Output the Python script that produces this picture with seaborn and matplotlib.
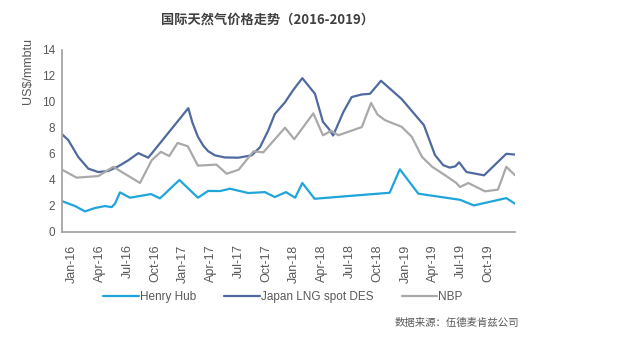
import numpy as np
import pandas as pd
import matplotlib
matplotlib.use("Agg")
import matplotlib.pyplot as plt
import seaborn as sns

# x positions are months since Jan-2016
hh_x = [-1.08, 0.33, 1.4, 2.48, 3.56, 4.28, 4.64, 5.18, 6.26, 8.53, 9.5, 11.6, 13.6, 14.7,
        15.98, 17.06, 19.04, 20.84, 21.9, 23.1, 24.1, 24.87, 26.2, 31.64, 34.3, 35.4, 37.4,
        41.9, 43.4, 46.9, 47.84]
hh_y = [2.37, 1.99, 1.58, 1.84, 1.99, 1.91, 2.17, 3.04, 2.63, 2.91, 2.58, 3.99, 2.63, 3.15,
        3.14, 3.32, 2.99, 3.06, 2.68, 3.06, 2.63, 3.76, 2.55, 2.86, 3.01, 4.81, 2.94,
        2.47, 2.04, 2.6, 2.17]

jp_x = [-1.08, -0.4, 0.68, 1.76, 2.84, 3.92, 5.0, 6.08, 7.16, 8.24, 12.56, 13.0, 13.6, 14.2,
        14.7, 15.44, 16.5, 17.96, 19.4, 20.3, 21.2, 21.9, 23.0, 23.9, 24.87, 26.24, 27.1,
        27.75, 28.2, 29.3, 30.2, 31.28, 32.18, 33.37, 35.6, 38.0, 39.2, 40.1, 40.8, 41.4,
        41.8, 42.6, 44.5, 46.9, 47.84]
jp_y = [7.5, 7.05, 5.75, 4.86, 4.6, 4.68, 5.04, 5.5, 6.05, 5.7, 9.5, 8.4, 7.3, 6.6,
        6.2, 5.88, 5.72, 5.7, 5.88, 6.5, 7.8, 9.05, 9.95, 10.9, 11.8, 10.6, 8.45,
        7.9, 7.4, 9.2, 10.35, 10.55, 10.6, 11.6, 10.2, 8.2, 5.9, 5.12, 4.94, 5.04,
        5.35, 4.6, 4.35, 6.0, 5.94]

nbp_x = [-1.08, 0.5, 2.84, 4.46, 7.34, 8.6, 9.6, 10.5, 11.4, 12.5, 13.6, 15.6, 16.7, 18.0,
         19.6, 20.66, 23.0, 24.0, 26.06, 27.1, 28.0, 28.76, 31.3, 32.3, 33.0, 33.8, 35.6,
         36.7, 37.8, 38.9, 40.3, 41.5, 41.9, 42.8, 44.6, 46.0, 46.9, 47.84]
nbp_y = [4.78, 4.17, 4.29, 5.0, 3.76, 5.5, 6.15, 5.83, 6.83, 6.58, 5.09, 5.17, 4.47, 4.78,
         6.19, 6.11, 8.0, 7.12, 9.1, 7.42, 7.76, 7.42, 8.05, 9.9, 9.0, 8.58, 8.07,
         7.3, 5.76, 5.0, 4.35, 3.76, 3.45, 3.76, 3.12, 3.25, 5.0, 4.35]

tick_months = list(range(0, 46, 3))
tick_labels = ["Jan-16", "Apr-16", "Jul-16", "Oct-16", "Jan-17", "Apr-17", "Jul-17", "Oct-17",
               "Jan-18", "Apr-18", "Jul-18", "Oct-18", "Jan-19", "Apr-19", "Jul-19", "Oct-19"]

series_names = ["Henry Hub", "Japan LNG spot DES", "NBP"]
colors = ["#1FA5DA", "#4F6A9E", "#A9A9A9"]

sns.set_theme(style="white")
plt.rcParams["font.family"] = ["Liberation Sans", "Noto Sans CJK SC", "DejaVu Sans"]

fig = plt.figure(figsize=(6.34, 3.44), dpi=100)
ax = fig.add_axes([62 / 634, 1 - 232 / 344, (515 - 62) / 634, (232 - 49.5) / 344])

for xs, ys, name, col in zip([hh_x, jp_x, nbp_x], [hh_y, jp_y, nbp_y], series_names, colors):
    df = pd.DataFrame({"x": xs, "y": ys})
    sns.lineplot(data=df, x="x", y="y", ax=ax, color=col, linewidth=1.6,
                 label=name, estimator=None, sort=False, legend=False)

ax.set_xlim(-1.08, 47.84)
ax.set_ylim(0, 14)
ax.set_yticks(range(0, 15, 2))
ax.set_xticks(tick_months)
ax.set_xticklabels(tick_labels, rotation=90)
ax.set_xticks([-1.08], minor=True)
ax.set_yticks([0], minor=True)
ax.set_xlabel("")
ax.set_ylabel("")
for s in ["top", "right"]:
    ax.spines[s].set_visible(False)
for s in ["left", "bottom"]:
    ax.spines[s].set_color("#A6A6A6")
    ax.spines[s].set_linewidth(1.3)
ax.tick_params(axis="both", which="major", colors="#595959", labelsize=8.5, length=0, pad=5)
ax.tick_params(axis="x", which="major", pad=9, labelsize=9)
ax.tick_params(axis="x", which="minor", length=8, width=1.3, color="#A6A6A6", direction="out")
ax.tick_params(axis="y", which="minor", length=4, width=1.3, color="#A6A6A6", direction="out")

handles = [plt.Line2D([], [], color=c, linewidth=1.6) for c in colors]
fig.legend(handles, series_names, loc="center", bbox_to_anchor=(283 / 634, 1 - 297 / 344),
           ncol=3, frameon=False, fontsize=8.5, handlelength=3.0, handletextpad=0.1,
           columnspacing=2.4, labelcolor="#595959")

fig.text(268 / 634, 1 - 20 / 344, "国际天然气价格走势（2016-2019）", ha="center", va="center",
         fontsize=9.5, fontweight="bold", color="#404040",
         family=["Noto Sans CJK SC", "DejaVu Sans"])
fig.text(28 / 634, 1 - 71 / 344, "US$/mmbtu", rotation=90, ha="center", va="center",
         fontsize=9, color="#595959")
fig.text(519 / 634, 1 - 323 / 344, "数据来源：伍德麦肯兹公司", ha="right", va="center",
         fontsize=7.5, color="#595959", family=["Noto Sans CJK SC", "DejaVu Sans"])

fig.savefig("out.png", dpi=100, facecolor="white")
